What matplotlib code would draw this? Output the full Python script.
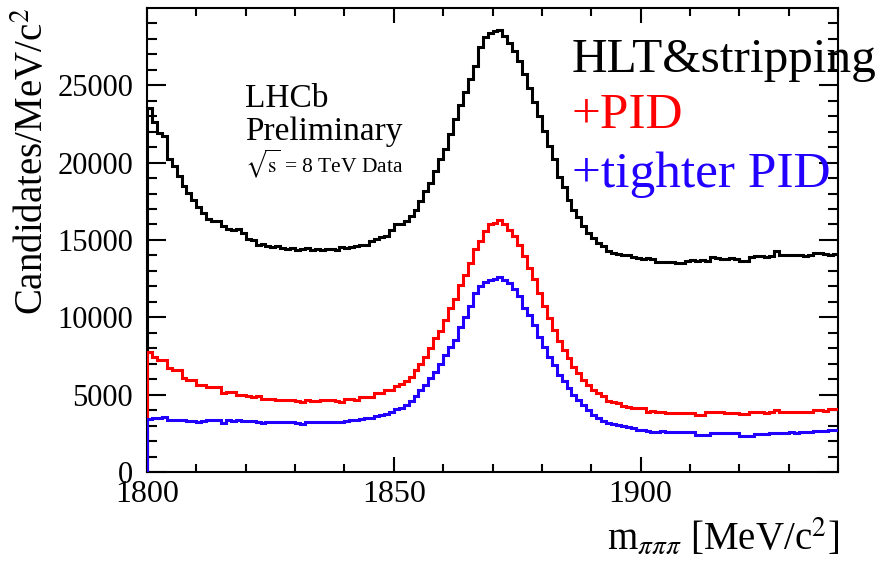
import numpy as np
import matplotlib.pyplot as plt
from matplotlib.ticker import MultipleLocator

plt.rcParams['font.family'] = ['Liberation Serif', 'DejaVu Serif']
plt.rcParams['mathtext.fontset'] = 'stix'

# bin edges in MeV/c^2 (1 MeV bins)
mass_lo, mass_hi = 1800, 1940

hlt_stripping = [
    23500, 22600, 21900, 21700, 20250, 19800, 19150, 18500, 18050, 17600,
    17100, 16750, 16350, 16200, 16250, 15900, 15700, 15650, 15700, 15450,
    15050, 15000, 14700, 14750, 14600, 14550, 14600, 14450, 14400, 14450,
    14350, 14400, 14450, 14380, 14400, 14350, 14420, 14400, 14350, 14550,
    14500, 14550, 14600, 14650, 14700, 14950, 15050, 15200, 15250, 15650,
    16000, 16000, 16200, 16550, 16950, 17500, 18150, 18700, 19450, 20200,
    20850, 21850, 22800, 23750, 24550, 25400, 26250, 27450, 28100, 28400,
    28500, 28600, 28200, 27750, 27200, 26550, 25700, 24850, 23900, 23000,
    22050, 21050, 20200, 19050, 18450, 17600, 16950, 16450, 15900, 15450,
    15150, 14800, 14600, 14300, 14150, 14100, 14050, 14000, 13900, 13800,
    13750, 13800, 13750, 13550, 13580, 13550, 13600, 13520, 13500, 13650,
    13680, 13650, 13700, 13650, 13880, 13800, 13750, 13780, 13800, 13750,
    13650, 13620, 13900, 13950, 13950, 13900, 13950, 14270, 14050, 14050,
    14000, 14050, 14050, 13950, 14000, 14150, 14150, 14100, 14050, 14100,
]

pid = [
    7750, 7450, 7250, 7250, 6700, 6600, 6600, 6070, 5950, 5950,
    5650, 5630, 5480, 5490, 5470, 5100, 5200, 5190, 4990, 4980,
    4880, 4870, 4890, 4730, 4720, 4740, 4660, 4650, 4670, 4660,
    4560, 4550, 4660, 4600, 4610, 4660, 4650, 4670, 4560, 4550,
    4700, 4710, 4660, 4840, 4830, 4850, 5100, 5100, 5310, 5320,
    5530, 5700, 5850, 6150, 6600, 7000, 7450, 8010, 8650, 9090,
    9850, 10600, 11150, 12100, 12750, 13500, 14400, 14900, 15550, 16000,
    16100, 16300, 16000, 15650, 15250, 14700, 13950, 13200, 12450, 11550,
    10700, 9950, 9200, 8450, 7900, 7350, 6800, 6400, 5950, 5650,
    5300, 5100, 4900, 4600, 4550, 4450, 4250, 4230, 4150, 4120,
    4130, 3900, 3920, 3900, 3910, 3800, 3810, 3790, 3800, 3800,
    3790, 3690, 3700, 3850, 3860, 3900, 3910, 3800, 3810, 3790,
    3760, 3750, 3850, 3850, 3860, 3840, 3850, 4010, 3900, 3910,
    3900, 3850, 3860, 3900, 3910, 4010, 4000, 3950, 4050, 4080,
]

tighter_pid = [
    3450, 3500, 3480, 3550, 3380, 3370, 3330, 3330, 3320, 3300,
    3260, 3270, 3370, 3360, 3350, 3150, 3330, 3320, 3330, 3320,
    3310, 3280, 3260, 3160, 3200, 3220, 3230, 3240, 3230, 3220,
    3160, 3110, 3200, 3240, 3230, 3240, 3200, 3200, 3220, 3260,
    3270, 3330, 3340, 3400, 3480, 3470, 3620, 3680, 3760, 3900,
    4100, 4150, 4300, 4560, 4880, 5310, 5600, 6050, 6450, 7000,
    7550, 8100, 8550, 9400, 10050, 10700, 11550, 12000, 12300, 12420,
    12450, 12600, 12430, 12200, 11800, 11350, 10600, 10150, 9500, 8750,
    8100, 7450, 6900, 6280, 5850, 5420, 4990, 4660, 4340, 4010,
    3700, 3480, 3300, 3150, 3100, 3050, 2950, 2940, 2850, 2720,
    2700, 2620, 2610, 2600, 2620, 2590, 2580, 2600, 2590, 2570,
    2580, 2400, 2420, 2400, 2500, 2490, 2510, 2500, 2490, 2500,
    2340, 2330, 2350, 2450, 2440, 2460, 2500, 2490, 2510, 2550,
    2560, 2550, 2600, 2610, 2600, 2630, 2640, 2650, 2700, 2720,
]

labels = ['HLT&stripping', '+PID', '+tighter PID']
colors = ['black', '#ff0000', '#2200ff']

fig = plt.figure(figsize=(8.87, 5.61), dpi=100)
ax = fig.add_axes([147 / 887, 89 / 561, 691 / 887, 464 / 561])

edges = np.arange(mass_lo, mass_hi + 1)
for vals, col in zip([hlt_stripping, pid, tighter_pid], colors):
    ax.stairs(vals, edges, baseline=None, color=col, lw=2.2, zorder=3)
    # ROOT draws the rising edge of the first bin from zero
    ax.plot([edges[0], edges[0]], [0, vals[0]], color=col, lw=2.2, zorder=3)

ax.set_xlim(mass_lo, mass_hi)
ax.set_ylim(0, 29990)  # top label (30000) is not drawn in the original
ax.xaxis.set_major_locator(MultipleLocator(50))
ax.xaxis.set_minor_locator(MultipleLocator(10))
ax.yaxis.set_major_locator(MultipleLocator(5000))
ax.yaxis.set_minor_locator(MultipleLocator(1000))

ax.tick_params(which='both', direction='in', top=True, right=True, width=1.5)
ax.tick_params(axis='y', which='major', length=14, pad=10, labelsize=22)
ax.tick_params(axis='y', which='minor', length=7)
ax.tick_params(axis='x', which='major', length=11, pad=6, labelsize=23)
ax.tick_params(axis='x', which='minor', length=6)
for sp in ax.spines.values():
    sp.set_linewidth(1.5)

fig.text(33 / 887, 1 - 8 / 561, 'Candidates/MeV/c$^{2}$', rotation=90,
         ha='center', va='top', fontsize=28)
fig.text(839 / 887, 1 - 550 / 561, r'm$_{\pi\pi\pi}$ [MeV/c$^{2}$]',
         ha='right', va='baseline', fontsize=28)

# LHCb label
fig.text(245 / 887, 1 - 107 / 561, 'LHCb', fontsize=24, va='baseline')
fig.text(245 / 887, 1 - 140 / 561, 'Preliminary', fontsize=24, va='baseline')
fig.text(245 / 887, 1 - 172 / 561, r'$\sqrt{\mathrm{s}}$ = 8 TeV Data', fontsize=15.5, va='baseline')

# legend as coloured text
for lab, col, base, fs in zip(labels, colors, [72, 128, 187], [35.5, 37, 37]):
    fig.text(572 / 887, 1 - base / 561, lab, color=col, fontsize=fs, va='baseline')

fig.savefig('out.png', dpi=100)
